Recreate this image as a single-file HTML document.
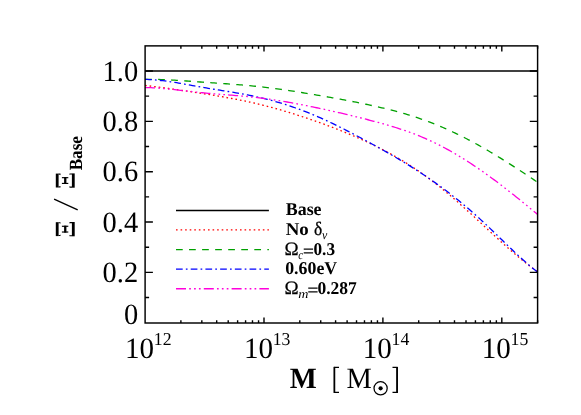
<!DOCTYPE html>
<html><head><meta charset="utf-8"><title>chart</title>
<style>
html,body{margin:0;padding:0;background:#fff;}
body{width:581px;height:415px;overflow:hidden;font-family:"Liberation Serif",serif;}
svg{display:block;will-change:transform}
svg text{text-rendering:geometricPrecision}
</style></head><body>
<svg width="581" height="415" viewBox="0 0 581 415">
<rect width="581" height="415" fill="#fff"/>
<clipPath id="c"><rect x="145.1" y="45.88" width="392.5" height="277.12"/></clipPath>
<g clip-path="url(#c)" fill="none" stroke-linecap="butt">
<path d="M145.1 71.00 H537.6" stroke="#000" stroke-width="1.3"/>
<path d="M145.10 85.45 L147.07 85.69 L149.04 85.93 L151.02 86.17 L152.99 86.42 L154.96 86.67 L156.93 86.92 L158.91 87.18 L160.88 87.44 L162.85 87.71 L164.82 87.97 L166.80 88.24 L168.77 88.51 L170.74 88.79 L172.71 89.07 L174.69 89.35 L176.66 89.63 L178.63 89.91 L180.60 90.20 L182.57 90.49 L184.55 90.78 L186.52 91.08 L188.49 91.37 L190.46 91.67 L192.44 91.97 L194.41 92.28 L196.38 92.58 L198.35 92.88 L200.33 93.19 L202.30 93.50 L204.27 93.81 L206.24 94.12 L208.22 94.44 L210.19 94.76 L212.16 95.08 L214.13 95.40 L216.11 95.72 L218.08 96.05 L220.05 96.39 L222.02 96.73 L223.99 97.07 L225.97 97.42 L227.94 97.77 L229.91 98.13 L231.88 98.49 L233.86 98.86 L235.83 99.24 L237.80 99.62 L239.77 100.01 L241.75 100.40 L243.72 100.81 L245.69 101.22 L247.66 101.64 L249.64 102.06 L251.61 102.50 L253.58 102.94 L255.55 103.40 L257.52 103.86 L259.50 104.33 L261.47 104.81 L263.44 105.30 L265.41 105.80 L267.39 106.31 L269.36 106.83 L271.33 107.36 L273.30 107.89 L275.28 108.44 L277.25 108.99 L279.22 109.55 L281.19 110.12 L283.17 110.70 L285.14 111.28 L287.11 111.88 L289.08 112.48 L291.05 113.08 L293.03 113.70 L295.00 114.32 L296.97 114.95 L298.94 115.59 L300.92 116.23 L302.89 116.88 L304.86 117.54 L306.83 118.20 L308.81 118.87 L310.78 119.55 L312.75 120.23 L314.72 120.92 L316.70 121.61 L318.67 122.31 L320.64 123.02 L322.61 123.73 L324.58 124.45 L326.56 125.18 L328.53 125.91 L330.50 126.66 L332.47 127.41 L334.45 128.16 L336.42 128.93 L338.39 129.70 L340.36 130.48 L342.34 131.27 L344.31 132.07 L346.28 132.88 L348.25 133.70 L350.23 134.53 L352.20 135.36 L354.17 136.21 L356.14 137.06 L358.12 137.93 L360.09 138.81 L362.06 139.70 L364.03 140.59 L366.00 141.50 L367.98 142.42 L369.95 143.35 L371.92 144.30 L373.89 145.25 L375.87 146.22 L377.84 147.20 L379.81 148.19 L381.78 149.20 L383.76 150.22 L385.73 151.26 L387.70 152.31 L389.67 153.38 L391.65 154.46 L393.62 155.56 L395.59 156.67 L397.56 157.81 L399.53 158.96 L401.51 160.13 L403.48 161.31 L405.45 162.52 L407.42 163.74 L409.40 164.99 L411.37 166.25 L413.34 167.54 L415.31 168.85 L417.29 170.18 L419.26 171.53 L421.23 172.90 L423.20 174.29 L425.18 175.71 L427.15 177.15 L429.12 178.62 L431.09 180.11 L433.06 181.62 L435.04 183.15 L437.01 184.70 L438.98 186.27 L440.95 187.86 L442.93 189.47 L444.90 191.10 L446.87 192.74 L448.84 194.40 L450.82 196.07 L452.79 197.76 L454.76 199.47 L456.73 201.19 L458.71 202.92 L460.68 204.66 L462.65 206.41 L464.62 208.18 L466.59 209.96 L468.57 211.74 L470.54 213.53 L472.51 215.33 L474.48 217.14 L476.46 218.96 L478.43 220.78 L480.40 222.61 L482.37 224.44 L484.35 226.27 L486.32 228.11 L488.29 229.95 L490.26 231.78 L492.24 233.62 L494.21 235.45 L496.18 237.27 L498.15 239.09 L500.13 240.90 L502.10 242.70 L504.07 244.49 L506.04 246.27 L508.01 248.03 L509.99 249.77 L511.96 251.50 L513.93 253.21 L515.90 254.90 L517.88 256.57 L519.85 258.21 L521.82 259.83 L523.79 261.43 L525.77 262.99 L527.74 264.53 L529.71 266.03 L531.68 267.50 L533.66 268.94 L535.63 270.35 L537.60 271.71" stroke="#ff0000" stroke-width="1.3" stroke-dasharray="1.6 2.97"/>
<path d="M145.10 79.35 L147.07 79.33 L149.04 79.32 L151.02 79.33 L152.99 79.34 L154.96 79.37 L156.93 79.41 L158.91 79.47 L160.88 79.53 L162.85 79.60 L164.82 79.68 L166.80 79.77 L168.77 79.86 L170.74 79.97 L172.71 80.08 L174.69 80.19 L176.66 80.31 L178.63 80.44 L180.60 80.57 L182.57 80.70 L184.55 80.84 L186.52 80.98 L188.49 81.12 L190.46 81.27 L192.44 81.41 L194.41 81.56 L196.38 81.70 L198.35 81.85 L200.33 81.99 L202.30 82.13 L204.27 82.27 L206.24 82.41 L208.22 82.54 L210.19 82.68 L212.16 82.81 L214.13 82.95 L216.11 83.08 L218.08 83.21 L220.05 83.35 L222.02 83.48 L223.99 83.62 L225.97 83.76 L227.94 83.90 L229.91 84.04 L231.88 84.19 L233.86 84.33 L235.83 84.49 L237.80 84.64 L239.77 84.80 L241.75 84.96 L243.72 85.13 L245.69 85.30 L247.66 85.48 L249.64 85.66 L251.61 85.85 L253.58 86.04 L255.55 86.24 L257.52 86.45 L259.50 86.66 L261.47 86.88 L263.44 87.11 L265.41 87.34 L267.39 87.58 L269.36 87.83 L271.33 88.08 L273.30 88.34 L275.28 88.60 L277.25 88.87 L279.22 89.14 L281.19 89.42 L283.17 89.70 L285.14 89.99 L287.11 90.28 L289.08 90.57 L291.05 90.87 L293.03 91.17 L295.00 91.48 L296.97 91.79 L298.94 92.10 L300.92 92.42 L302.89 92.74 L304.86 93.06 L306.83 93.38 L308.81 93.71 L310.78 94.03 L312.75 94.36 L314.72 94.70 L316.70 95.03 L318.67 95.36 L320.64 95.70 L322.61 96.04 L324.58 96.38 L326.56 96.72 L328.53 97.07 L330.50 97.42 L332.47 97.77 L334.45 98.12 L336.42 98.48 L338.39 98.84 L340.36 99.20 L342.34 99.56 L344.31 99.93 L346.28 100.31 L348.25 100.68 L350.23 101.06 L352.20 101.45 L354.17 101.83 L356.14 102.23 L358.12 102.62 L360.09 103.02 L362.06 103.43 L364.03 103.84 L366.00 104.25 L367.98 104.67 L369.95 105.10 L371.92 105.53 L373.89 105.96 L375.87 106.40 L377.84 106.85 L379.81 107.31 L381.78 107.77 L383.76 108.24 L385.73 108.71 L387.70 109.20 L389.67 109.69 L391.65 110.19 L393.62 110.70 L395.59 111.23 L397.56 111.76 L399.53 112.30 L401.51 112.85 L403.48 113.41 L405.45 113.99 L407.42 114.57 L409.40 115.17 L411.37 115.78 L413.34 116.41 L415.31 117.05 L417.29 117.70 L419.26 118.36 L421.23 119.04 L423.20 119.74 L425.18 120.45 L427.15 121.17 L429.12 121.91 L431.09 122.67 L433.06 123.44 L435.04 124.23 L437.01 125.03 L438.98 125.85 L440.95 126.68 L442.93 127.52 L444.90 128.38 L446.87 129.26 L448.84 130.15 L450.82 131.05 L452.79 131.97 L454.76 132.90 L456.73 133.85 L458.71 134.81 L460.68 135.78 L462.65 136.77 L464.62 137.77 L466.59 138.78 L468.57 139.81 L470.54 140.85 L472.51 141.90 L474.48 142.97 L476.46 144.05 L478.43 145.14 L480.40 146.24 L482.37 147.36 L484.35 148.49 L486.32 149.63 L488.29 150.78 L490.26 151.94 L492.24 153.11 L494.21 154.30 L496.18 155.49 L498.15 156.70 L500.13 157.91 L502.10 159.13 L504.07 160.36 L506.04 161.60 L508.01 162.85 L509.99 164.10 L511.96 165.36 L513.93 166.63 L515.90 167.91 L517.88 169.19 L519.85 170.48 L521.82 171.77 L523.79 173.07 L525.77 174.37 L527.74 175.68 L529.71 176.99 L531.68 178.31 L533.66 179.62 L535.63 180.95 L537.60 182.27" stroke="#00a000" stroke-width="1.3" stroke-dasharray="6.72 6.33"/>
<path d="M145.10 79.41 L147.07 79.46 L149.04 79.53 L151.02 79.63 L152.99 79.76 L154.96 79.91 L156.93 80.08 L158.91 80.27 L160.88 80.48 L162.85 80.71 L164.82 80.96 L166.80 81.22 L168.77 81.50 L170.74 81.79 L172.71 82.09 L174.69 82.40 L176.66 82.73 L178.63 83.06 L180.60 83.40 L182.57 83.75 L184.55 84.10 L186.52 84.45 L188.49 84.81 L190.46 85.17 L192.44 85.53 L194.41 85.89 L196.38 86.25 L198.35 86.60 L200.33 86.95 L202.30 87.30 L204.27 87.63 L206.24 87.97 L208.22 88.30 L210.19 88.62 L212.16 88.94 L214.13 89.26 L216.11 89.58 L218.08 89.90 L220.05 90.21 L222.02 90.53 L223.99 90.85 L225.97 91.17 L227.94 91.49 L229.91 91.81 L231.88 92.14 L233.86 92.47 L235.83 92.81 L237.80 93.15 L239.77 93.50 L241.75 93.85 L243.72 94.22 L245.69 94.59 L247.66 94.97 L249.64 95.36 L251.61 95.76 L253.58 96.17 L255.55 96.59 L257.52 97.02 L259.50 97.47 L261.47 97.93 L263.44 98.40 L265.41 98.89 L267.39 99.39 L269.36 99.90 L271.33 100.42 L273.30 100.96 L275.28 101.51 L277.25 102.07 L279.22 102.65 L281.19 103.24 L283.17 103.85 L285.14 104.46 L287.11 105.10 L289.08 105.74 L291.05 106.40 L293.03 107.07 L295.00 107.76 L296.97 108.46 L298.94 109.17 L300.92 109.90 L302.89 110.64 L304.86 111.40 L306.83 112.17 L308.81 112.96 L310.78 113.75 L312.75 114.57 L314.72 115.40 L316.70 116.24 L318.67 117.09 L320.64 117.96 L322.61 118.85 L324.58 119.74 L326.56 120.65 L328.53 121.57 L330.50 122.50 L332.47 123.44 L334.45 124.39 L336.42 125.35 L338.39 126.32 L340.36 127.30 L342.34 128.29 L344.31 129.29 L346.28 130.30 L348.25 131.32 L350.23 132.34 L352.20 133.37 L354.17 134.40 L356.14 135.45 L358.12 136.49 L360.09 137.55 L362.06 138.61 L364.03 139.67 L366.00 140.74 L367.98 141.81 L369.95 142.88 L371.92 143.96 L373.89 145.05 L375.87 146.13 L377.84 147.22 L379.81 148.32 L381.78 149.42 L383.76 150.52 L385.73 151.64 L387.70 152.76 L389.67 153.88 L391.65 155.02 L393.62 156.16 L395.59 157.31 L397.56 158.46 L399.53 159.63 L401.51 160.81 L403.48 161.99 L405.45 163.19 L407.42 164.39 L409.40 165.61 L411.37 166.84 L413.34 168.08 L415.31 169.33 L417.29 170.60 L419.26 171.88 L421.23 173.17 L423.20 174.47 L425.18 175.79 L427.15 177.13 L429.12 178.48 L431.09 179.84 L433.06 181.22 L435.04 182.61 L437.01 184.02 L438.98 185.45 L440.95 186.89 L442.93 188.35 L444.90 189.82 L446.87 191.31 L448.84 192.82 L450.82 194.34 L452.79 195.89 L454.76 197.44 L456.73 199.02 L458.71 200.61 L460.68 202.23 L462.65 203.85 L464.62 205.50 L466.59 207.17 L468.57 208.85 L470.54 210.56 L472.51 212.28 L474.48 214.02 L476.46 215.78 L478.43 217.56 L480.40 219.36 L482.37 221.18 L484.35 223.02 L486.32 224.88 L488.29 226.75 L490.26 228.63 L492.24 230.53 L494.21 232.43 L496.18 234.34 L498.15 236.25 L500.13 238.17 L502.10 240.09 L504.07 242.00 L506.04 243.91 L508.01 245.81 L509.99 247.71 L511.96 249.59 L513.93 251.46 L515.90 253.32 L517.88 255.16 L519.85 256.98 L521.82 258.78 L523.79 260.56 L525.77 262.30 L527.74 264.03 L529.71 265.72 L531.68 267.38 L533.66 269.00 L535.63 270.59 L537.60 272.14" stroke="#0000ff" stroke-width="1.3" stroke-dasharray="6.7 3.15 1.7 3.16"/>
<path d="M145.10 87.51 L147.07 87.56 L149.04 87.62 L151.02 87.71 L152.99 87.81 L154.96 87.92 L156.93 88.05 L158.91 88.19 L160.88 88.34 L162.85 88.51 L164.82 88.68 L166.80 88.87 L168.77 89.06 L170.74 89.26 L172.71 89.46 L174.69 89.68 L176.66 89.89 L178.63 90.11 L180.60 90.34 L182.57 90.56 L184.55 90.79 L186.52 91.02 L188.49 91.25 L190.46 91.47 L192.44 91.70 L194.41 91.92 L196.38 92.13 L198.35 92.34 L200.33 92.55 L202.30 92.75 L204.27 92.94 L206.24 93.12 L208.22 93.30 L210.19 93.48 L212.16 93.65 L214.13 93.81 L216.11 93.97 L218.08 94.13 L220.05 94.29 L222.02 94.45 L223.99 94.60 L225.97 94.75 L227.94 94.91 L229.91 95.06 L231.88 95.22 L233.86 95.38 L235.83 95.54 L237.80 95.70 L239.77 95.87 L241.75 96.04 L243.72 96.21 L245.69 96.40 L247.66 96.58 L249.64 96.78 L251.61 96.98 L253.58 97.18 L255.55 97.40 L257.52 97.63 L259.50 97.86 L261.47 98.10 L263.44 98.36 L265.41 98.62 L267.39 98.89 L269.36 99.17 L271.33 99.45 L273.30 99.74 L275.28 100.05 L277.25 100.35 L279.22 100.67 L281.19 100.99 L283.17 101.32 L285.14 101.66 L287.11 102.00 L289.08 102.35 L291.05 102.70 L293.03 103.06 L295.00 103.43 L296.97 103.80 L298.94 104.18 L300.92 104.56 L302.89 104.94 L304.86 105.33 L306.83 105.73 L308.81 106.13 L310.78 106.53 L312.75 106.94 L314.72 107.35 L316.70 107.76 L318.67 108.17 L320.64 108.59 L322.61 109.02 L324.58 109.44 L326.56 109.87 L328.53 110.31 L330.50 110.74 L332.47 111.19 L334.45 111.63 L336.42 112.08 L338.39 112.53 L340.36 112.98 L342.34 113.44 L344.31 113.90 L346.28 114.37 L348.25 114.84 L350.23 115.31 L352.20 115.79 L354.17 116.27 L356.14 116.76 L358.12 117.25 L360.09 117.74 L362.06 118.23 L364.03 118.73 L366.00 119.24 L367.98 119.75 L369.95 120.26 L371.92 120.77 L373.89 121.29 L375.87 121.82 L377.84 122.35 L379.81 122.89 L381.78 123.43 L383.76 123.99 L385.73 124.55 L387.70 125.12 L389.67 125.70 L391.65 126.29 L393.62 126.89 L395.59 127.50 L397.56 128.12 L399.53 128.76 L401.51 129.41 L403.48 130.07 L405.45 130.74 L407.42 131.43 L409.40 132.14 L411.37 132.86 L413.34 133.60 L415.31 134.36 L417.29 135.13 L419.26 135.92 L421.23 136.73 L423.20 137.56 L425.18 138.41 L427.15 139.29 L429.12 140.18 L431.09 141.09 L433.06 142.02 L435.04 142.97 L437.01 143.95 L438.98 144.94 L440.95 145.95 L442.93 146.98 L444.90 148.03 L446.87 149.10 L448.84 150.18 L450.82 151.29 L452.79 152.41 L454.76 153.55 L456.73 154.71 L458.71 155.89 L460.68 157.09 L462.65 158.30 L464.62 159.53 L466.59 160.77 L468.57 162.04 L470.54 163.32 L472.51 164.61 L474.48 165.92 L476.46 167.25 L478.43 168.60 L480.40 169.96 L482.37 171.33 L484.35 172.72 L486.32 174.13 L488.29 175.54 L490.26 176.98 L492.24 178.42 L494.21 179.88 L496.18 181.35 L498.15 182.84 L500.13 184.34 L502.10 185.84 L504.07 187.36 L506.04 188.89 L508.01 190.43 L509.99 191.98 L511.96 193.54 L513.93 195.11 L515.90 196.69 L517.88 198.27 L519.85 199.86 L521.82 201.47 L523.79 203.07 L525.77 204.69 L527.74 206.31 L529.71 207.94 L531.68 209.57 L533.66 211.21 L535.63 212.85 L537.60 214.49" stroke="#ff00dc" stroke-width="1.3" stroke-dasharray="10 3.18 1.7 3.18 1.7 3.17 1.7 3.17"/>
</g>
<rect x="145.1" y="45.88" width="392.50" height="277.12" fill="none" stroke="#000" stroke-width="1.45"/>
<path d="M180.89 323.0 v-2.85 M180.89 45.88 v2.85 M201.83 323.0 v-2.85 M201.83 45.88 v2.85 M216.69 323.0 v-2.85 M216.69 45.88 v2.85 M228.21 323.0 v-2.85 M228.21 45.88 v2.85 M237.62 323.0 v-2.85 M237.62 45.88 v2.85 M245.58 323.0 v-2.85 M245.58 45.88 v2.85 M252.48 323.0 v-2.85 M252.48 45.88 v2.85 M258.56 323.0 v-2.85 M258.56 45.88 v2.85 M264.00 323.0 v-5.6 M264.00 45.88 v5.6 M299.80 323.0 v-2.85 M299.80 45.88 v2.85 M320.73 323.0 v-2.85 M320.73 45.88 v2.85 M335.59 323.0 v-2.85 M335.59 45.88 v2.85 M347.11 323.0 v-2.85 M347.11 45.88 v2.85 M356.53 323.0 v-2.85 M356.53 45.88 v2.85 M364.49 323.0 v-2.85 M364.49 45.88 v2.85 M371.38 323.0 v-2.85 M371.38 45.88 v2.85 M377.46 323.0 v-2.85 M377.46 45.88 v2.85 M382.90 323.0 v-5.6 M382.90 45.88 v5.6 M418.70 323.0 v-2.85 M418.70 45.88 v2.85 M439.64 323.0 v-2.85 M439.64 45.88 v2.85 M454.49 323.0 v-2.85 M454.49 45.88 v2.85 M466.01 323.0 v-2.85 M466.01 45.88 v2.85 M475.43 323.0 v-2.85 M475.43 45.88 v2.85 M483.39 323.0 v-2.85 M483.39 45.88 v2.85 M490.28 323.0 v-2.85 M490.28 45.88 v2.85 M496.37 323.0 v-2.85 M496.37 45.88 v2.85 M501.81 323.0 v-5.6 M501.81 45.88 v5.6 M537.60 323.0 v-2.85 M537.60 45.88 v2.85 M145.1 297.57 h4.0 M537.6 297.57 h-4.0 M145.1 272.40 h7.8 M537.6 272.40 h-7.8 M145.1 247.23 h4.0 M537.6 247.23 h-4.0 M145.1 222.05 h7.8 M537.6 222.05 h-7.8 M145.1 196.88 h4.0 M537.6 196.88 h-4.0 M145.1 171.70 h7.8 M537.6 171.70 h-7.8 M145.1 146.53 h4.0 M537.6 146.53 h-4.0 M145.1 121.35 h7.8 M537.6 121.35 h-7.8 M145.1 96.17 h4.0 M537.6 96.17 h-4.0 M145.1 71.00 h7.8 M537.6 71.00 h-7.8" stroke="#000" stroke-width="1.4" fill="none"/>
<g font-family="Liberation Serif, serif" fill="#000">
<text transform="translate(138.20 80.60) scale(0.965 1)" font-size="29.5" text-anchor="end" >1.0</text>
<text transform="translate(138.20 130.95) scale(0.965 1)" font-size="29.5" text-anchor="end" >0.8</text>
<text transform="translate(138.20 181.30) scale(0.965 1)" font-size="29.5" text-anchor="end" >0.6</text>
<text transform="translate(138.20 231.65) scale(0.965 1)" font-size="29.5" text-anchor="end" >0.4</text>
<text transform="translate(138.20 282.00) scale(0.965 1)" font-size="29.5" text-anchor="end" >0.2</text>
<text transform="translate(138.20 323.50) scale(0.965 1)" font-size="29.5" text-anchor="end" >0</text>
<text transform="translate(125.00 357.60) scale(0.985 1)" font-size="29.5" >10</text>
<text transform="translate(153.80 345.00) scale(0.97 1)" font-size="18.29" >12</text>
<text transform="translate(243.90 357.60) scale(0.985 1)" font-size="29.5" >10</text>
<text transform="translate(272.70 345.00) scale(0.97 1)" font-size="18.29" >13</text>
<text transform="translate(362.80 357.60) scale(0.985 1)" font-size="29.5" >10</text>
<text transform="translate(391.60 345.00) scale(0.97 1)" font-size="18.29" >14</text>
<text transform="translate(481.71 357.60) scale(0.985 1)" font-size="29.5" >10</text>
<text transform="translate(510.51 345.00) scale(0.97 1)" font-size="18.29" >15</text>
<text transform="translate(289.80 387.70) scale(0.97 1)" font-size="29.5" font-weight="bold" >M</text>
<text transform="translate(346.60 387.70) scale(0.965 1)" font-size="29.5" >M</text>
</g>
<path d="M339.0 367.4 H334.4 V392.4 H339.0" fill="none" stroke="#000" stroke-width="1.1"/><path d="M334.4 366.9 V392.9" fill="none" stroke="#000" stroke-width="1.7"/>
<path d="M392.5 367.4 H397.1 V392.4 H392.5" fill="none" stroke="#000" stroke-width="1.1"/><path d="M397.1 366.9 V392.9" fill="none" stroke="#000" stroke-width="1.7"/>
<circle cx="380.6" cy="388.3" r="6.6" fill="none" stroke="#000" stroke-width="1.25"/>
<circle cx="380.6" cy="388.3" r="2.1" fill="#000"/>
<g fill="#000"><rect x="55.8" y="173.60" width="2.8" height="13.9"/><path d="M58.5 173.60 H60.5 V175.20 L59.9 174.75 H58.5 Z"/><path d="M58.5 187.50 H60.5 V185.90 L59.9 186.35 H58.5 Z"/><rect x="64.1" y="177.10" width="2.3" height="6.90"/><rect x="61.9" y="177.10" width="6.4" height="1.15"/><rect x="61.9" y="182.85" width="6.4" height="1.15"/><rect x="71.9" y="173.40" width="2.8" height="14.3"/><path d="M72.0 173.40 H69.5 V175.00 L70.1 174.55 H72.0 Z"/><path d="M72.0 187.70 H69.5 V186.10 L70.1 186.55 H72.0 Z"/><rect x="55.8" y="222.20" width="2.8" height="13.9"/><path d="M58.5 222.20 H60.5 V223.80 L59.9 223.35 H58.5 Z"/><path d="M58.5 236.10 H60.5 V234.50 L59.9 234.95 H58.5 Z"/><rect x="64.1" y="225.70" width="2.3" height="6.90"/><rect x="61.9" y="225.70" width="6.4" height="1.15"/><rect x="61.9" y="231.45" width="6.4" height="1.15"/><rect x="71.9" y="222.00" width="2.8" height="14.3"/><path d="M72.0 222.00 H69.5 V223.60 L70.1 223.15 H72.0 Z"/><path d="M72.0 236.30 H69.5 V234.70 L70.1 235.15 H72.0 Z"/></g>
<path d="M54.1 199.1 L77.7 209.9" stroke="#000" stroke-width="1.4" fill="none"/>
<text transform="translate(81.9 170.3) rotate(-90)" font-family="Liberation Serif, serif" font-weight="bold" font-size="18.6" textLength="34.2" lengthAdjust="spacingAndGlyphs">Base</text>
<g fill="none" stroke-width="1.3">
<path d="M176.0 210.5 H268.9" stroke="#000" stroke-width="1.45"/>
<path d="M176.0 229.9 H268.9" stroke="#ff0000" stroke-dasharray="1.6 2.97"/>
<path d="M176.0 249.55 H268.9" stroke="#00a000" stroke-dasharray="6.72 6.33"/>
<path d="M176.0 269.1 H268.9" stroke="#0000ff" stroke-dasharray="6.7 3.15 1.7 3.16"/>
<path d="M176.0 288.75 H268.9" stroke="#ff00dc" stroke-dasharray="10 3.18 1.7 3.18 1.7 3.17 1.7 3.17"/>
</g>
<g font-family="Liberation Serif, serif" fill="#000">
<text transform="translate(285.75 215.45) scale(0.994 1)" font-size="18.0" font-weight="bold" >Base</text>
<text transform="translate(285.70 235.00) scale(1.049 1)" font-size="18.0" font-weight="bold" >No</text>
<text transform="translate(313.90 235.00) scale(0.92 1)" font-size="19.0" stroke="#000" stroke-width="0.3">δ</text>
<text transform="translate(322.00 239.30) scale(0.95 1)" font-size="12.5" font-style="italic" >ν</text>
<text x="284.40" y="254.80" font-size="19.0" stroke="#000" stroke-width="0.25">Ω</text>
<text transform="translate(298.30 259.10) scale(0.87 1)" font-size="12.5" font-style="italic" >c</text>
<text transform="translate(302.70 256.60) scale(1.116 1)" font-size="18.0" font-weight="bold" >=</text>
<text transform="translate(313.45 254.80) scale(0.958 1)" font-size="18.0" font-weight="bold" >0.3</text>
<text transform="translate(285.20 274.10) scale(0.99 1)" font-size="18.0" font-weight="bold" >0.60eV</text>
<text x="284.40" y="293.85" font-size="19.0" stroke="#000" stroke-width="0.25">Ω</text>
<text transform="translate(298.20 298.15) scale(1.13 1)" font-size="12.5" font-style="italic" >m</text>
<text transform="translate(307.30 295.65) scale(1.116 1)" font-size="18.0" font-weight="bold" >=</text>
<text transform="translate(317.40 293.85) scale(0.973 1)" font-size="18.0" font-weight="bold" >0.287</text>
</g>
</svg>
</body></html>
